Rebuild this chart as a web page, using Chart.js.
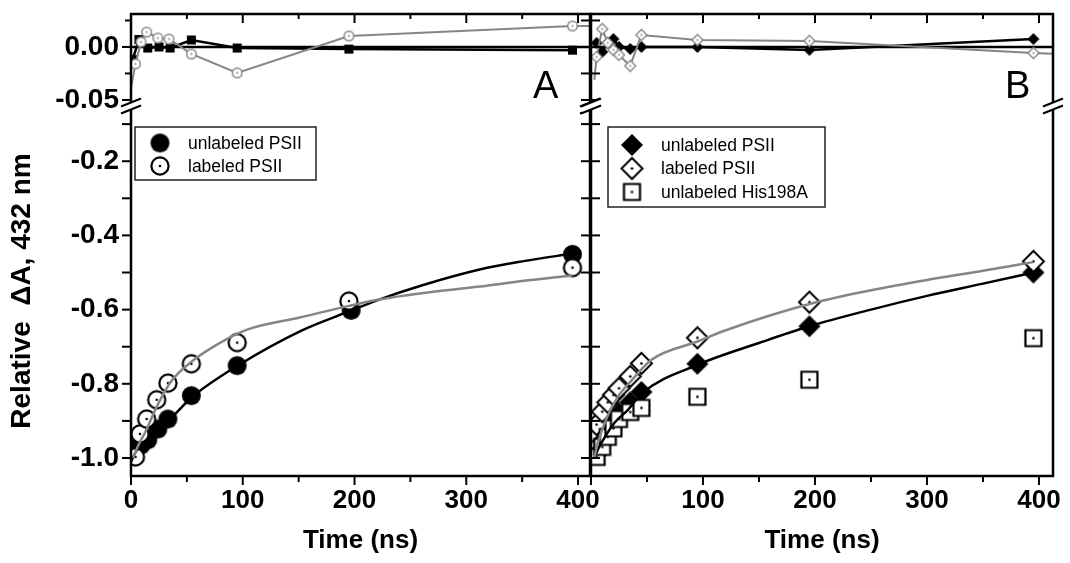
<!DOCTYPE html>
<html lang="en">
<head>
<meta charset="UTF-8">
<title>Relative ΔA at 432 nm – panels A and B</title>
<script src="https://cdn.jsdelivr.net/npm/chart.js"></script>
<style>
  body { margin: 0; background: #fff; }
  #wrap { position: relative; width: 1070px; height: 563px; }
  #chartA { position: absolute; left: 0; top: 0; }
  #chartB { position: absolute; left: 560px; top: 0; }
</style>
</head>
<body>
<div id="wrap">
  <canvas id="chartA" width="600" height="563"></canvas>
  <canvas id="chartB" width="510" height="563"></canvas>
</div>
<script>
// ---- panel A, main decay (time in ns, relative dA) ----
var aFilledT = [5, 9, 15, 24, 33, 54, 95, 197, 395];
var aFilledV = [-0.973, -0.965, -0.951, -0.922, -0.895, -0.832, -0.751, -0.602, -0.451];
var aOpenT = [4, 8, 14, 23, 33, 54, 95, 195, 395];
var aOpenV = [-0.997, -0.935, -0.895, -0.843, -0.798, -0.746, -0.689, -0.577, -0.487];
var aFitBlackT = [0, 5, 15, 25, 35, 55, 95, 153, 195, 222, 260, 312, 350, 395];
var aFitBlackV = [-1.01, -0.98, -0.952, -0.922, -0.895, -0.835, -0.752, -0.656, -0.605, -0.573, -0.535, -0.492, -0.47, -0.449];
var aFitGrayT = [2, 7, 12.5, 23, 35, 53, 80, 104, 150, 195, 222, 260, 312, 350, 395];
var aFitGrayV = [-1.0, -0.963, -0.932, -0.862, -0.797, -0.743, -0.689, -0.654, -0.622, -0.59, -0.573, -0.556, -0.538, -0.523, -0.508];

// ---- panel A, residuals ----
var aResBlackT = [1.5, 7, 15, 25, 35, 54, 95, 195, 395];
var aResBlackV = [-0.012, 0.007, -0.001, 0, -0.001, 0.0066, -0.001, -0.002, -0.003];
var aResGrayT = [0, 4, 9, 14, 24, 34, 54, 95, 195, 395, 412];
var aResGrayV = [-0.0387, -0.016, 0.0047, 0.0141, 0.0085, 0.0075, -0.0066, -0.0245, 0.0104, 0.0198, 0.0198];

// ---- panel B, main decay ----
var bT = [5, 10, 15, 20, 25, 35, 45, 95, 195, 395];
var bFilledV = [-0.99, -0.955, -0.93, -0.9, -0.88, -0.85, -0.822, -0.746, -0.645, -0.5];
var bOpenV = [-0.91, -0.875, -0.85, -0.83, -0.812, -0.78, -0.745, -0.676, -0.58, -0.47];
var bHisV = [-0.997, -0.97, -0.943, -0.92, -0.895, -0.876, -0.865, -0.835, -0.789, -0.677];
var bFitBlackT = [3, 6, 12.5, 21, 33, 46, 95, 150, 195, 250, 300, 350, 395];
var bFitBlackV = [-1.0, -0.978, -0.943, -0.905, -0.87, -0.824, -0.749, -0.69, -0.645, -0.6, -0.563, -0.53, -0.5];
var bFitGrayT = [3, 6, 14, 24, 36.5, 54, 95, 121, 195, 250, 300, 350, 395];
var bFitGrayV = [-1.0, -0.96, -0.892, -0.835, -0.79, -0.735, -0.686, -0.655, -0.585, -0.548, -0.52, -0.495, -0.472];

// ---- panel B, residuals ----
var bResBlackV = [0.0038, -0.0047, 0.0038, 0.0075, 0, -0.0019, 0, 0, -0.0028, 0.0075];
var bResGrayT = [3, 5, 10, 15, 20, 25, 35, 45, 95, 195, 395, 415];
var bResGrayV = [-0.031, -0.0094, 0.017, 0.0038, -0.0028, -0.0075, -0.0179, 0.0113, 0.0066, 0.0057, -0.0057, -0.0066];

var zeroT = [0, 415];
var zeroV = [0, 0];

// ---- axes ----
var xLabelsA = [0, 100, 200, 300, 400];
var xLabelsB = [100, 200, 300, 400];
var xTickMarks = [0, 50, 100, 150, 200, 250, 300, 350, 400];
var yTopLabels = [0, -0.05];
var yTopMarks = [0.025, 0, -0.025, -0.05];
var yBotLabels = [-0.2, -0.4, -0.6, -0.8, -1.0];
var yBotMarks = [-0.1, -0.2, -0.3, -0.4, -0.5, -0.6, -0.7, -0.8, -0.9, -1.0];

var legendA = ['unlabeled PSII', 'labeled PSII'];
var legendB = ['unlabeled PSII', 'labeled PSII', 'unlabeled His198A'];

var FONT = "'Liberation Sans', Arial, sans-serif";
var gray = '#858585';
Chart.defaults.font.family = FONT;
Chart.defaults.color = '#000';

// marker images (canvas point styles)
function marker(shape, half, fill, stroke, lw, dot) {
    lw = lw || 0;
    var s = Math.ceil(2 * half + lw + 2);
    var c = document.createElement('canvas');
    c.width = s; c.height = s;
    var g = c.getContext('2d');
    var m = s / 2;
    g.beginPath();
    if (shape === 'circle') {
        g.arc(m, m, half, 0, Math.PI * 2);
    } else if (shape === 'square') {
        g.rect(m - half, m - half, 2 * half, 2 * half);
    } else {
        g.moveTo(m, m - half); g.lineTo(m + half, m); g.lineTo(m, m + half); g.lineTo(m - half, m); g.closePath();
    }
    g.fillStyle = fill; g.fill();
    if (stroke) { g.lineWidth = lw; g.strokeStyle = stroke; g.stroke(); }
    if (dot) { g.beginPath(); g.arc(m, m, dot, 0, Math.PI * 2); g.fillStyle = stroke; g.fill(); }
    return c;
}
var bigDot = marker('circle', 9.5, '#000');
var bigRing = marker('circle', 8.6, '#fff', '#000', 2.2, 1.3);
var bigDiamond = marker('diamond', 11, '#000');
var bigDiamondOpen = marker('diamond', 10.5, '#fff', '#000', 2, 1.3);
var bigSquareOpen = marker('square', 8, '#fff', '#000', 2.2, 1.3);
var smallSquare = marker('square', 4.5, '#000');
var smallRing = marker('circle', 4.8, '#fff', gray, 1.4, 1);
var smallDiamond = marker('diamond', 6, '#000');
var smallDiamondOpen = marker('diamond', 5.5, '#fff', gray, 1.4, 1);

function pts(ts, vs) {
    return ts.map(function(t, i) { return {x: t, y: vs[i]}; });
}
function hiddenEnds(ts, r) {
    return ts.map(function(t) { return (t <= 3 || t > 400) ? 0 : r; });
}

// frame, tick marks, axis breaks and panel letter
var framePlugin = {
    id: 'frame',
    afterDatasetsDraw: function(chart, args, o) {
        var ctx = chart.ctx, a = chart.chartArea;
        var x = chart.scales.x, yT = chart.scales.yTop, yB = chart.scales.yBot;
        ctx.save();
        ctx.strokeStyle = '#000';
        function line(x1, y1, x2, y2) { ctx.beginPath(); ctx.moveTo(x1, y1); ctx.lineTo(x2, y2); ctx.stroke(); }
        ctx.lineWidth = 2;
        xTickMarks.forEach(function(v) {
            var px = x.getPixelForValue(v);
            var major = v % 100 === 0;
            line(px, a.bottom, px, a.bottom + (major ? 9 : 6));
            line(px, a.top, px, a.top + (major ? 9 : 5));
        });
        function yTicks(scale, marks, majors) {
            marks.forEach(function(v) {
                var py = scale.getPixelForValue(v);
                var len = majors.indexOf(v) >= 0 ? 9 : 6;
                if (o.left === 'out') line(a.left - len, py, a.left, py);
                if (o.left === 'in') line(a.left, py, a.left + 9, py);
                if (o.right === 'in') line(a.right - 9, py, a.right, py);
            });
        }
        yTicks(yT, yTopMarks, yTopLabels);
        yTicks(yB, yBotMarks, yBotMarks);

        ctx.lineWidth = 2.5;
        ctx.strokeRect(a.left, a.top, a.right - a.left, a.bottom - a.top);

        var y0 = yB.top;
        o.breaks.forEach(function(side) {
            var x0 = side === 'left' ? a.left : a.right;
            ctx.fillStyle = '#fff';
            ctx.beginPath();
            ctx.moveTo(x0 - 9, y0); ctx.lineTo(x0 + 9, y0 - 7); ctx.lineTo(x0 + 9, y0); ctx.lineTo(x0 - 9, y0 + 7);
            ctx.closePath(); ctx.fill();
            ctx.lineWidth = 2;
            line(x0 - 10, y0 + 0.5, x0 + 10, y0 - 7.5);
            line(x0 - 10, y0 + 7.5, x0 + 10, y0 - 0.5);
        });

        ctx.font = '38px ' + FONT;
        ctx.fillStyle = '#000';
        ctx.textBaseline = 'alphabetic';
        ctx.fillText(o.letter, o.letterX, o.letterY);
        ctx.restore();
    }
};

// boxed legend inside the plot
var boxLegend = {
    id: 'boxLegend',
    afterDraw: function(chart, args, o) {
        var ctx = chart.ctx;
        ctx.save();
        ctx.fillStyle = '#fff';
        ctx.fillRect(o.x, o.y, o.w, o.h);
        ctx.strokeStyle = '#222';
        ctx.lineWidth = 1.5;
        ctx.strokeRect(o.x, o.y, o.w, o.h);
        ctx.font = '17.5px ' + FONT;
        ctx.fillStyle = '#000';
        ctx.textBaseline = 'middle';
        o.items.forEach(function(it, i) {
            var cy = o.firstY + i * o.gap;
            ctx.drawImage(it.img, o.markX - it.img.width / 2, cy - it.img.height / 2);
            ctx.fillText(it.label, o.textX, cy + 1);
        });
        ctx.restore();
    }
};

function makePanel(id, p) {
    var yAxisWidth = p.yWidth;
    return new Chart(document.getElementById(id), {
        type: 'line',
        data: { datasets: p.datasets },
        plugins: [framePlugin, boxLegend],
        options: {
            responsive: false,
            animation: false,
            events: [],
            layout: { padding: { left: 0, right: p.padRight, top: 14, bottom: 0 } },
            plugins: {
                legend: { display: false },
                tooltip: { enabled: false },
                frame: p.frame,
                boxLegend: p.legend
            },
            scales: {
                x: {
                    type: 'linear', position: 'bottom', min: 0, max: p.xMax,
                    grid: { display: false, drawTicks: false }, border: { display: false },
                    afterBuildTicks: function(s) { s.ticks = p.xLabels.map(function(v) { return {value: v}; }); },
                    ticks: { font: { size: 26, weight: 'bold' }, color: '#000', padding: 9, maxRotation: 0, autoSkip: false,
                             callback: function(v) { return String(v); } },
                    title: { display: true, text: 'Time (ns)', font: { size: 26, weight: 'bold' }, color: '#000',
                             padding: { top: 0, bottom: 7 } },
                    afterFit: function(s) { s.height = 87; s.paddingLeft = 0; s.paddingRight = 0; }
                },
                yTop: {
                    type: 'linear', position: 'left', stack: 'y', stackWeight: 92, weight: 1,
                    min: -0.0557, max: 0.0311,
                    grid: { display: false, drawTicks: false }, border: { display: false },
                    afterBuildTicks: function(s) { s.ticks = yTopLabels.map(function(v) { return {value: v}; }); },
                    ticks: { display: p.showY, font: { size: 28, weight: 'bold' }, color: '#000', padding: 12,
                             callback: function(v) { return v.toFixed(2); } },
                    afterFit: function(s) { s.width = yAxisWidth; s.paddingTop = 0; s.paddingBottom = 0; }
                },
                yBot: {
                    type: 'linear', position: 'left', stack: 'y', stackWeight: 370, weight: 0,
                    min: -1.0485, max: -0.0512,
                    grid: { display: false, drawTicks: false }, border: { display: false },
                    afterBuildTicks: function(s) { s.ticks = yBotLabels.map(function(v) { return {value: v}; }); },
                    ticks: { display: p.showY, font: { size: 28, weight: 'bold' }, color: '#000', padding: 12,
                             callback: function(v) { return v.toFixed(1); } },
                    title: { display: p.showY, text: 'Relative  \u0394A, 432 nm', font: { size: 28, weight: 'bold' },
                             color: '#000', padding: { top: 5, bottom: 0 } },
                    afterFit: function(s) { s.width = yAxisWidth; s.paddingTop = 0; s.paddingBottom = 0; }
                }
            }
        }
    });
}

function fitLine(data, color) {
    return { data: data, yAxisID: 'yBot', borderColor: color, borderWidth: 2.5, pointRadius: 0,
             cubicInterpolationMode: 'monotone', fill: false };
}
function scatter(label, data, img) {
    return { label: label, data: data, yAxisID: 'yBot', showLine: false, pointStyle: img, pointRadius: 9 };
}

makePanel('chartA', {
    xMax: 410.7, xLabels: xLabelsA, yWidth: 131, padRight: 9, showY: true,
    frame: { left: 'out', right: 'in', breaks: ['left', 'right'], letter: 'A', letterX: 533, letterY: 98 },
    legend: { x: 135, y: 127, w: 181, h: 53, firstY: 143, gap: 23, markX: 160, textX: 188,
              items: [{ img: bigDot, label: legendA[0] }, { img: bigRing, label: legendA[1] }] },
    datasets: [
        fitLine(pts(aFitGrayT, aFitGrayV), gray),
        fitLine(pts(aFitBlackT, aFitBlackV), '#000'),
        scatter(legendA[1], pts(aOpenT, aOpenV), bigRing),
        scatter(legendA[0], pts(aFilledT, aFilledV), bigDot),
        { data: pts(aResGrayT, aResGrayV), yAxisID: 'yTop', borderColor: gray, borderWidth: 2,
          pointStyle: smallRing, pointRadius: aResGrayT.map(function(t) { return (t <= 0 || t > 400) ? 0 : 5; }) },
        { data: pts(aResBlackT, aResBlackV), yAxisID: 'yTop', borderColor: '#000', borderWidth: 2.5,
          pointStyle: smallSquare, pointRadius: 5 },
        { data: pts(zeroT, zeroV), yAxisID: 'yTop', borderColor: '#000', borderWidth: 2.5, pointRadius: 0 }
    ]
});

makePanel('chartB', {
    xMax: 412.5, xLabels: xLabelsB, yWidth: 31, padRight: 17, showY: false,
    frame: { left: 'in', right: null, breaks: ['left', 'right'], letter: 'B', letterX: 445, letterY: 98 },
    legend: { x: 48, y: 127, w: 217, h: 80, firstY: 145, gap: 23.5, markX: 72, textX: 101,
              items: [{ img: bigDiamond, label: legendB[0] }, { img: bigDiamondOpen, label: legendB[1] },
                      { img: bigSquareOpen, label: legendB[2] }] },
    datasets: [
        fitLine(pts(bFitGrayT, bFitGrayV), gray),
        fitLine(pts(bFitBlackT, bFitBlackV), '#000'),
        scatter(legendB[2], pts(bT, bHisV), bigSquareOpen),
        scatter(legendB[1], pts(bT, bOpenV), bigDiamondOpen),
        scatter(legendB[0], pts(bT, bFilledV), bigDiamond),
        { data: pts(bResGrayT, bResGrayV), yAxisID: 'yTop', borderColor: gray, borderWidth: 2,
          pointStyle: smallDiamondOpen, pointRadius: hiddenEnds(bResGrayT, 6) },
        { data: pts(bT, bResBlackV), yAxisID: 'yTop', borderColor: '#000', borderWidth: 2.5,
          pointStyle: smallDiamond, pointRadius: 6 },
        { data: pts(zeroT, zeroV), yAxisID: 'yTop', borderColor: '#000', borderWidth: 2.5, pointRadius: 0 }
    ]
});
</script>
</body>
</html>
